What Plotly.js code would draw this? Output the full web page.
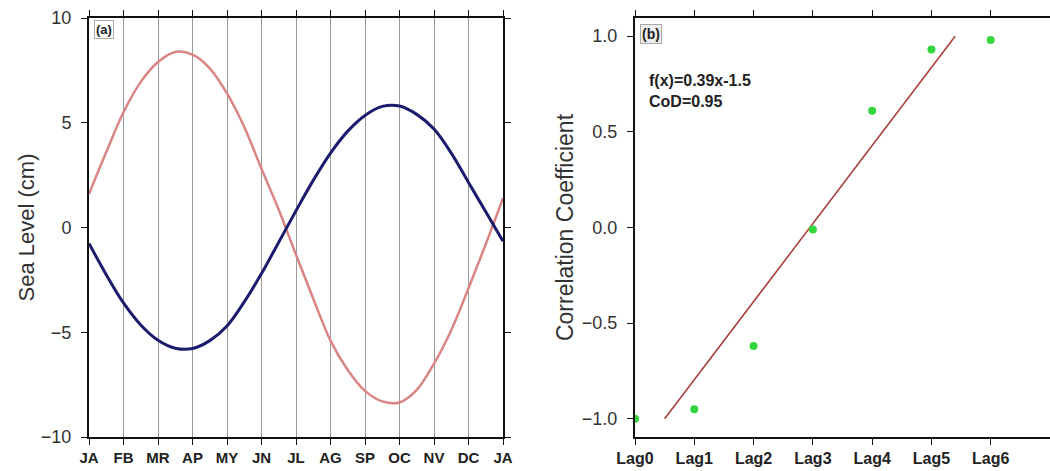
<!DOCTYPE html>
<html>
<head>
<meta charset="utf-8">
<script src="https://cdn.plot.ly/plotly-3.0.1.min.js"></script>
<style>html,body{margin:0;padding:0;background:#fff;}#chart{width:1050px;height:471px;}</style>
</head>
<body>
<div id="chart"></div>
<script>
// ---- Panel (a): seasonal sea level (values read every half month) ----
var monthTickPos = [0,1,2,3,4,5,6,7,8,9,10,11,12];
var monthLabels = ['JA','FB','MR','AP','MY','JN','JL','AG','SP','OC','NV','DC','JA'];

var halfMonthX = [0,0.5,1,1.5,2,2.5,3,3.5,4,4.5,5,5.5,6,6.5,7,7.5,8,8.5,9,9.5,10,10.5,11,11.5,12];
var pinkY = [1.6, 3.6, 5.5, 6.95, 7.9, 8.38, 8.25, 7.6, 6.4, 4.8, 2.8, 0.85, -1.3, -3.4, -5.4, -6.8, -7.8, -8.3, -8.35, -7.75, -6.5, -4.9, -2.9, -0.8, 1.4];
var blueY = [-0.76, -2.25, -3.6, -4.65, -5.38, -5.76, -5.78, -5.4, -4.7, -3.55, -2.2, -0.7, 0.8, 2.25, 3.55, 4.6, 5.35, 5.78, 5.8, 5.4, 4.7, 3.55, 2.15, 0.75, -0.65];

// ---- Panel (b): lag correlation ----
var lagPos = [0, 1, 2, 3, 4, 5, 6];
var lagLabels = ['Lag0','Lag1','Lag2','Lag3','Lag4','Lag5','Lag6'];
var corrValues = [-1.0, -0.95, -0.62, -0.01, 0.61, 0.93, 0.98];
var fitX = [0.5, 5.4];
var fitY = [-1.0, 1.0];
var fitLabel = 'f(x)=0.39x-1.5<br>CoD=0.95';

var FONT = 'Liberation Sans, Arial, Helvetica, sans-serif';

var traces = [
  {x: halfMonthX, y: pinkY, type: 'scatter', mode: 'lines', line: {color: '#d98585', width: 2.5, shape: 'spline', smoothing: 1}, xaxis: 'x', yaxis: 'y'},
  {x: halfMonthX, y: blueY, type: 'scatter', mode: 'lines', line: {color: '#1c1c6e', width: 3, shape: 'spline', smoothing: 1}, xaxis: 'x', yaxis: 'y'},
  {x: fitX, y: fitY, type: 'scatter', mode: 'lines', line: {color: '#a84040', width: 1.6}, xaxis: 'x2', yaxis: 'y2'},
  {x: lagPos, y: corrValues, type: 'scatter', mode: 'markers', marker: {color: '#33d63c', size: 8}, xaxis: 'x2', yaxis: 'y2'}
];

var axCommon = {
  showline: true, linecolor: '#111', linewidth: 2,
  ticks: 'outside', ticklen: 6, tickwidth: 1, tickcolor: '#111',
  zeroline: false
};

var layout = {
  width: 1050, height: 471,
  margin: {l: 0, r: 0, t: 18, b: 34},
  paper_bgcolor: '#fff', plot_bgcolor: '#fff',
  showlegend: false,
  font: {family: FONT, color: '#222'},
  xaxis: Object.assign({}, axCommon, {
    domain: [89/1050, 503/1050], range: [0, 12],
    tickvals: monthTickPos, ticktext: monthLabels,
    mirror: 'ticks', showgrid: true, gridcolor: '#9a9a9a', gridwidth: 1,
    tickfont: {family: FONT, size: 15, weight: 'bold', color: '#222'},
    ticklabelstandoff: 0
  }),
  yaxis: Object.assign({}, axCommon, {
    range: [-10, 10], tickvals: [-10, -5, 0, 5, 10],
    mirror: 'ticks', showgrid: false,
    tickfont: {family: FONT, size: 18, color: '#333'},
    ticklabelstandoff: 6,
    title: {text: 'Sea Level (cm)', font: {family: FONT, size: 22, color: '#333'}, standoff: 0}
  }),
  xaxis2: Object.assign({}, axCommon, {
    domain: [635/1050, 1], range: [0, 7], anchor: 'y2',
    tickvals: lagPos, ticktext: lagLabels,
    mirror: 'ticks', showgrid: false,
    tickfont: {family: FONT, size: 16, weight: 'bold', color: '#222'},
    ticklabelstandoff: 0
  }),
  yaxis2: Object.assign({}, axCommon, {
    anchor: 'x2', range: [-1.095, 1.095], tickvals: [-1, -0.5, 0, 0.5, 1], tickformat: '.1f',
    mirror: false, showgrid: false,
    tickfont: {family: FONT, size: 18, color: '#333'},
    ticklabelstandoff: 6,
    title: {text: 'Correlation Coefficient', font: {family: FONT, size: 23, color: '#333'}, standoff: 2}
  }),
  annotations: [
    {xref: 'x domain', yref: 'y domain', x: 0.012, y: 0.995, xanchor: 'left', yanchor: 'top', text: '(a)', showarrow: false,
     font: {family: FONT, size: 13, weight: 'bold', color: '#222'}, bordercolor: '#aaa', borderwidth: 1, borderpad: 1, bgcolor: '#fff'},
    {xref: 'x2 domain', yref: 'y2 domain', x: 0.012, y: 0.985, xanchor: 'left', yanchor: 'top', text: '(b)', showarrow: false,
     font: {family: FONT, size: 14, weight: 'bold', color: '#222'}, bordercolor: '#aaa', borderwidth: 1, borderpad: 1, bgcolor: '#eee'},
    {xref: 'x2 domain', yref: 'y2 domain', x: 0.03, y: 0.875, xanchor: 'left', yanchor: 'top', align: 'left', text: fitLabel, showarrow: false,
     font: {family: FONT, size: 16, weight: 'bold', color: '#222'}}
  ]
};

Plotly.newPlot('chart', traces, layout, {staticPlot: true, displayModeBar: false});
</script>
</body>
</html>
